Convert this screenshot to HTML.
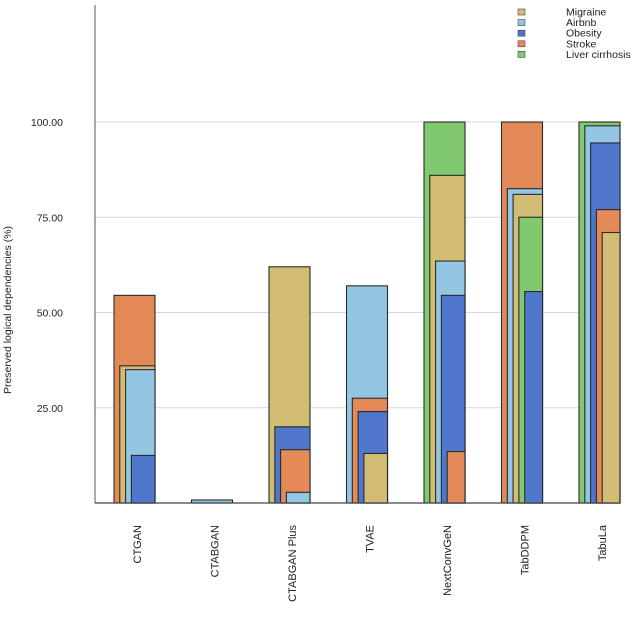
<!DOCTYPE html>
<html><head><meta charset="utf-8">
<style>
body{margin:0;background:#fff;font-family:"Liberation Sans",sans-serif;}
svg text{font-family:"Liberation Sans",sans-serif;}
</style></head>
<body>
<svg id="chart" width="640" height="627"></svg>
<script>
const categories = ["CTGAN","CTABGAN","CTABGAN Plus","TVAE","NextConvGeN","TabDDPM","TabuLa"];
const seriesNames = ["Migraine","Airbnb","Obesity","Stroke","Liver cirrhosis"];
const seriesColors = ["#d3bc74","#93c6e3","#5077cc","#e48a56","#80c96f"];
const migraine = [36, 0, 62, 13, 86, 81, 71];
const airbnb   = [35, 0.8, 2.8, 57, 63.5, 82.5, 99];
const obesity  = [12.5, 0, 20, 24, 54.5, 55.5, 94.5];
const stroke   = [54.5, 0, 14, 27.5, 13.5, 100, 77];
const liver    = [0, 0, 0, 0, 100, 75, 100];
const yTicks = [25, 50, 75, 100];
const yTickLabels = ["25.00","50.00","75.00","100.00"];

const series = [migraine, airbnb, obesity, stroke, liver];
const svg = document.getElementById('chart');
const NS = "http://www.w3.org/2000/svg";
const y0 = 503, yScale = 3.81;
const yPos = v => y0 - v * yScale;
const xRight = i => 155 + i * 77.5;
const xCenter = i => 137 + i * 77.5;
const fullW = 41, step = 5.8;

function mk(tag, attrs){ const e=document.createElementNS(NS,tag); for(const k in attrs) e.setAttribute(k,attrs[k]); svg.appendChild(e); return e; }

// gridlines
yTicks.forEach((t,i)=>{
  const g = mk('line',{x1:95,x2:610,y1:yPos(t),y2:yPos(t),stroke:'#d9d9d9','stroke-width':1});
  
  
  const tx = mk('text',{x:63,y:yPos(t)+4,'text-anchor':'end','font-size':10.5,fill:'#222'});
  tx.textContent = yTickLabels[i];
  
  
});

// bars
categories.forEach((c,ci)=>{
  const items = series.map((s,si)=>({v:s[ci],si})).filter(d=>d.v>0).sort((a,b)=>b.v-a.v);
  items.forEach((d,rank)=>{
    const left = xRight(ci) - fullW + rank*step;
    const r = mk('rect',{x:left,y:yPos(d.v),width:xRight(ci)-left,height:d.v*yScale,fill:seriesColors[d.si],stroke:'#2a2a2a','stroke-width':1.1});
    
    
  });
  const lab = mk('text',{x:0,y:0,'text-anchor':'end','font-size':11,fill:'#222',transform:`translate(${xCenter(ci)+4},525) rotate(-90)`});
  lab.textContent = c;
  
  
});

// axes
const ya = mk('line',{x1:95,x2:95,y1:5,y2:503,stroke:'#555','stroke-width':1});


const xa = mk('line',{x1:95,x2:610,y1:503,y2:503,stroke:'#444','stroke-width':1.2});



const yt = mk('text',{x:0,y:0,'text-anchor':'middle','font-size':10.5,fill:'#222',transform:'translate(11,310) rotate(-90)'});
yt.textContent = "Preserved logical dependencies (%)";



// legend
seriesNames.forEach((n,i)=>{
  const yy = 12 + i*10.6;
  const sq = mk('rect',{x:518,y:yy-3,width:7,height:6,fill:seriesColors[i],stroke:'#444','stroke-width':0.6});
  
  
  const t = mk('text',{x:566,y:yy+3.5,'font-size':10.5,fill:'#222'});
  t.textContent = n;
  
  
});
</script>
</body></html>
